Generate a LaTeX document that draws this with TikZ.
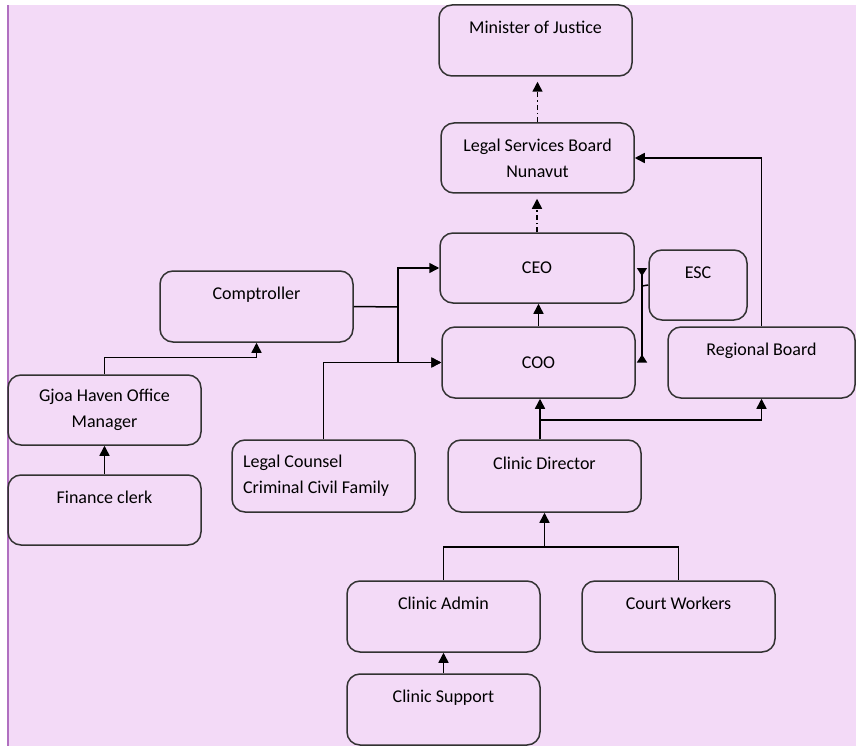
\documentclass[tikz,border=0pt]{standalone}
\usepackage{fontspec}
\setmainfont{Carlito}
\usepackage{tikz}
\usetikzlibrary{arrows.meta,calc}
\definecolor{bgpink}{RGB}{243,218,247}
\definecolor{bgedge}{RGB}{176,112,192}
\definecolor{boxline}{RGB}{50,50,50}
\tikzstyle{process} = [rectangle, rounded corners=13pt, minimum width=193pt, minimum height=71pt, text centered, draw=boxline, line width=1.5pt, inner sep=0pt, font=\fontsize{18pt}{26pt}\selectfont]
\tikzstyle{heading} = [text height=13pt, text depth=27pt]
\tikzstyle{joinline} = [line width=1.5pt]
\tikzstyle{arrow} = [joinline,-{Triangle[width=10pt,length=10pt]}]
\tikzstyle{revarrow} = [joinline,-{Triangle[reversed,width=10pt,length=8pt]}]
\tikzstyle{dasharrow} = [arrow, dash pattern=on 5pt off 3pt on 1.5pt off 3pt, shorten >=5pt]

\begin{document}
\begin{tikzpicture}[x=1pt, y=-1pt]
    \useasboundingbox (0,0) rectangle (856,746);
    \fill[bgpink] (7,5) rectangle (856,746);
    \draw[bgedge, line width=2.2pt] (8,5) -- (8,746);

    \node (minister) [process, heading] at (535.5,40.5) {Minister of Justice};

    \node (lsb) [process, minimum height=70pt, align=center] at (537.5,158) {Legal Services Board\\Nunavut};

    \node (ceo) [process, minimum width=194pt, minimum height=70pt] at (537,268) {CEO};

    \node (coo) [process] at (538.5,362.5) {COO};

    \node (esc) [process, heading, minimum width=98pt, minimum height=70pt] at (698,285) {ESC};

    \node (comptroller) [process, heading] at (256.5,306.5) {Comptroller};

    \node (regional) [process, heading, minimum width=187pt] at (761.5,362.5) {Regional Board};

    \node (gjoa) [process, minimum height=70pt, align=center] at (104.5,410) {Gjoa Haven Office\\Manager};

    \node (finance) [process, heading, minimum height=70pt] at (104.5,510) {Finance clerk};

    \node (counsel) [process, minimum width=183pt, minimum height=72pt, text width=161pt, align=flush left] at (323.5,476) {Legal Counsel\\Criminal Civil Family};

    \node (director) [process, heading, minimum height=72pt] at (544.5,476) {Clinic Director};

    \node (admin) [process, heading] at (443.5,616.5) {Clinic Admin};

    \node (court) [process, heading] at (678.5,616.5) {Court Workers};

    \node (support) [process, heading] at (443.5,709.5) {Clinic Support};

    % joints of the elbow lines
    \coordinate (cbus) at (398,307);
    \coordinate (dbus) at (540,420);
    \coordinate (abus) at (544.5,547);
    \coordinate (ejoin) at (642,286);

      \draw[dasharrow] (lsb.north) -- (lsb.north |- minister.south);
      \draw[dasharrow] (ceo.north) -- (ceo.north |- lsb.south);
      \draw[arrow] (coo.north) -- (coo.north |- ceo.south);

      \draw[arrow] (regional.north) |- (lsb.east);

      \draw[joinline] (comptroller.east) -- (cbus);
      \draw[arrow] (cbus) |- (ceo.west);
      \draw[arrow] (cbus) |- (coo.west);
      \draw[arrow] (counsel.north) |- (coo.west);

      \draw[arrow] (gjoa.north) -- ++(0,-17) -| (comptroller.south);
      \draw[arrow] (finance) -- (gjoa);

      \draw[joinline] (esc.west) -- (ejoin);
      \draw[revarrow] (ejoin) -- (ejoin |- ceo.east);
      \draw[revarrow] (ejoin) -- (ejoin |- coo.east);

      \draw[arrow] (director.north -| dbus) -- (dbus |- coo.south);
      \draw[arrow] (dbus) -| (regional.south);

      \draw[joinline] (admin.north) |- (abus) -| (court.north);
      \draw[arrow] (abus) -- (director.south);
      \draw[arrow] (support) -- (admin);

    \end{tikzpicture}
\end{document}
